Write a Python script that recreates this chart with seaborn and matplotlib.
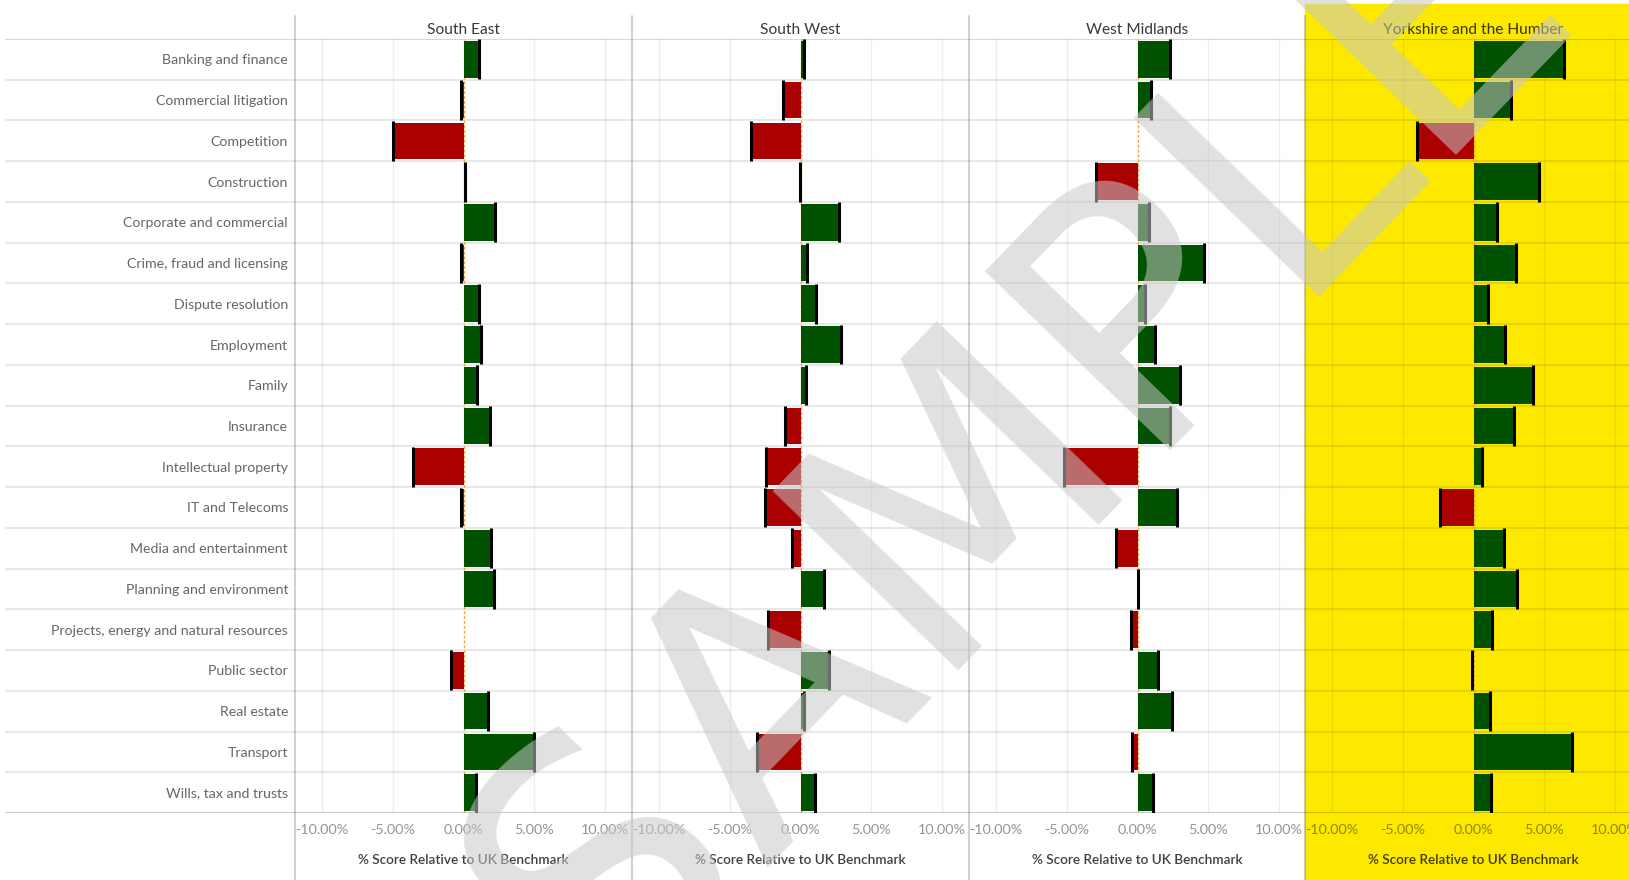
"""
Regional benchmark chart: % score relative to UK benchmark by practice area.
"""
import numpy as np
import pandas as pd
import matplotlib.pyplot as plt
import seaborn as sns
from matplotlib.lines import Line2D
from matplotlib.patches import Rectangle

categories = [
    "Banking and finance", "Commercial litigation", "Competition", "Construction",
    "Corporate and commercial", "Crime, fraud and licensing", "Dispute resolution",
    "Employment", "Family", "Insurance", "Intellectual property", "IT and Telecoms",
    "Media and entertainment", "Planning and environment",
    "Projects, energy and natural resources", "Public sector", "Real estate",
    "Transport", "Wills, tax and trusts",
]
regions = ["South East", "South West", "West Midlands", "Yorkshire and the Humber"]

south_east = [1.06, -0.15, -4.95, 0.08, 2.22, -0.15, 1.06, 1.27, 0.97, 1.84,
              -3.54, -0.21, 1.95, 2.15, np.nan, -0.85, 1.75, 5.0, 0.9]
south_west = [0.24, -1.23, -3.5, -0.07, 2.74, 0.47, 1.08, 2.88, 0.38, -1.08,
              -2.41, -2.48, -0.61, 1.65, -2.26, 2.03, 0.24, -3.05, 1.04]
west_midlands = [2.29, 0.92, np.nan, -2.95, 0.78, 4.67, 0.54, 1.25, 3.02, 2.33,
                 -5.21, 2.78, -1.51, 0.05, -0.47, 1.42, 2.41, -0.40, 1.08]
yorkshire = [6.42, 2.64, -4.0, 4.62, 1.65, 2.97, 1.04, 2.22, 4.22, 2.88,
             0.57, -2.38, 2.15, 3.04, 1.32, -0.1, 1.2, 6.95, 1.27]

x_ticks = [-10, -5, 0, 5, 10]
x_tick_labels = ["-10.00%", "-5.00%", "0.00%", "5.00%", "10.00%"]
axis_label = "% Score Relative to UK Benchmark"

GREEN = "#005200"
RED = "#aa0000"
YELLOW = "#fde900"

W, H = 1629, 880
sns.set_theme(style="white")
plt.rcParams["font.family"] = ["Lato", "DejaVu Sans"]

fig = plt.figure(figsize=(W / 100, H / 100), dpi=100)

# highlighted region column
fig.add_artist(Rectangle((1305 / W, 0), 1 - 1305 / W, 1 - 4 / H,
                         transform=fig.transFigure, color=YELLOW, zorder=-10))

plot_bottom = (H - 813) / H
plot_height = 774 / H
panel_w = 337

# background axes for the row separators (spans label column too)
bg = fig.add_axes([5 / W, plot_bottom, (W - 5) / W, plot_height], zorder=-5)
bg.set_facecolor("none")
bg.set_xlim(0, 1)
bg.set_ylim(len(categories) - 0.5, -0.5)
for i in range(1, len(categories)):
    bg.axhline(i - 0.5, color=(0, 0, 0, 0.09), lw=1.5)
bg.axhline(-0.5, color=(0, 0, 0, 0.16), lw=1.5)
bg.axhline(len(categories) - 0.5, color=(0, 0, 0, 0.2), lw=1.5)
bg.axis("off")

values = [south_east, south_west, west_midlands, yorkshire]
lefts = [295, 632, 969, 1305]

for k, (region, vals, left) in enumerate(zip(regions, values, lefts)):
    df = pd.DataFrame({"category": categories, "value": vals})
    df["sign"] = np.where(df["value"] < 0, "neg", "pos")

    ax = fig.add_axes([left / W, plot_bottom, panel_w / W, plot_height])
    ax.set_facecolor("none")
    for x in x_ticks:
        if x != 0:
            ax.axvline(x, color=(0, 0, 0, 0.07), lw=1, zorder=0)
    ax.axvline(0, color="#f5a03a", lw=1, ls=(0, (2, 1.5)), zorder=0.5)

    sns.barplot(data=df, x="value", y="category", hue="sign", order=categories,
                hue_order=["pos", "neg"], palette={"pos": GREEN, "neg": RED},
                dodge=False, width=0.9, saturation=1, legend=False, ax=ax,
                linewidth=0, zorder=2)

    # end markers
    ok = df["value"].notna()
    ypos = np.arange(len(categories))[ok.values]
    ax.vlines(df.loc[ok, "value"], ypos - 0.49, ypos + 0.49, colors="black", lw=2.2, zorder=3)

    ax.set_xlim(-11.9, 11.9)
    ax.set_ylim(len(categories) - 0.5, -0.5)
    ax.set_xticks(x_ticks)
    ax.set_xticklabels(x_tick_labels)
    ax.tick_params(axis="x", length=0, pad=8, labelsize=10.4, labelcolor=(0, 0, 0, 0.42))
    if k == 0:
        ax.tick_params(axis="y", length=0, pad=5, labelsize=10.2, labelcolor="#666666")
    else:
        ax.set_yticks([])
    ax.set_ylabel("")
    ax.set_xlabel(axis_label, fontsize=9.8, color=(0, 0, 0, 0.75), fontweight="semibold")
    ax.xaxis.set_label_coords(0.5, -(854 - 813) / 774)
    for s in ax.spines.values():
        s.set_visible(False)

    fig.text((left + panel_w / 2) / W, 1 - 30 / H, region, ha="center", va="center",
             fontsize=11.2, color=(0, 0, 0, 0.78))

    # column divider
    fig.add_artist(Line2D([left / W, left / W], [0, 1 - 16 / H], transform=fig.transFigure,
                          color=(0, 0, 0, 0.18), lw=1.5))

# watermark
fig.text(0.626, 0.497, "SAMPLE", rotation=46, ha="center", va="center", fontsize=255,
         color="#c8c8c8", alpha=0.55, family="DejaVu Sans", zorder=10)

plt.savefig("out.png", dpi=100)
